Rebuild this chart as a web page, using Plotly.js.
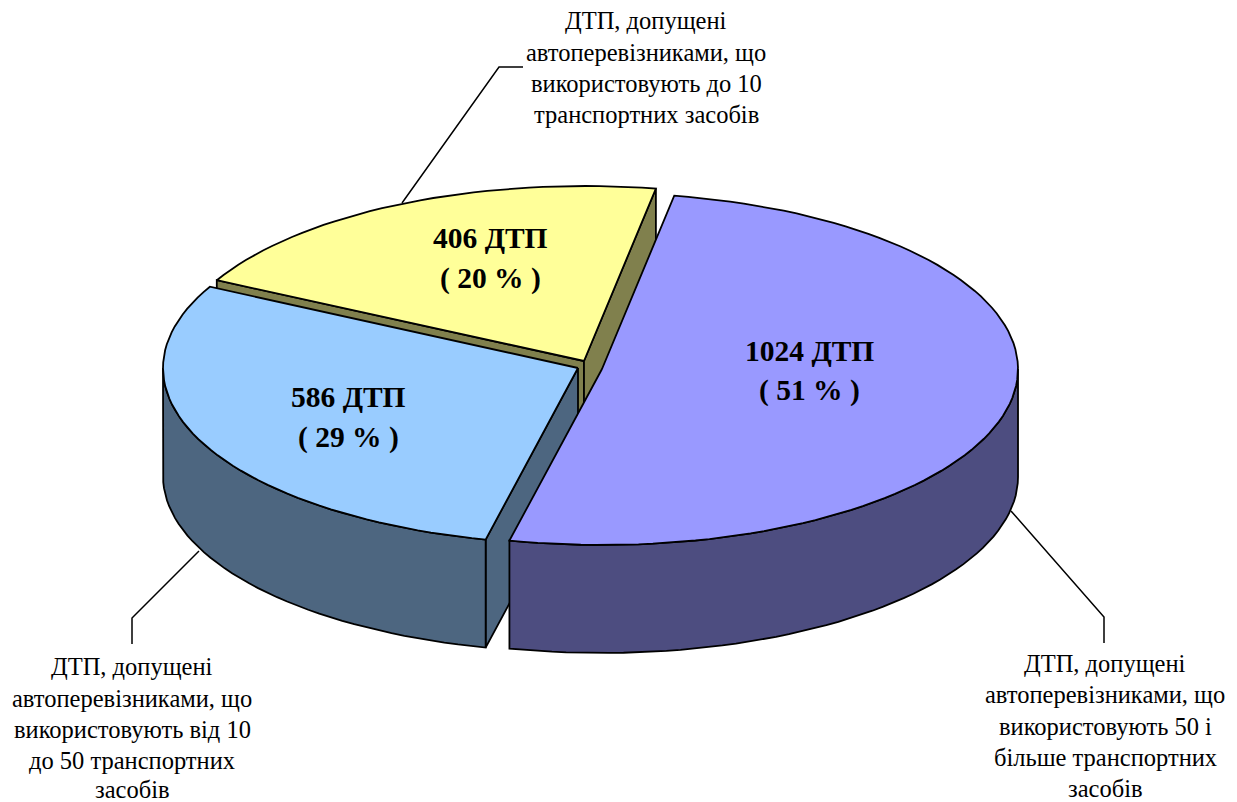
<!DOCTYPE html>
<html>
<head>
<meta charset="utf-8">
<script src="https://cdn.plot.ly/plotly-3.0.1.min.js"></script>
<style>html,body{margin:0;padding:0;background:#fff}#chart{width:1237px;height:802px}</style>
</head>
<body>
<div id="chart"></div>
<script>
// ---- data ----
const categories = ["50 і більше", "від 10 до 50", "до 10"];
const values = [1024, 586, 406];
const percents = [51, 29, 20];
const calloutLines = [
  ["ДТП, допущені", "автоперевізниками, що", "використовують 50 і", "більше транспортних", "засобів"],
  ["ДТП, допущені", "автоперевізниками, що", "використовують від 10", "до 50 транспортних", "засобів"],
  ["ДТП, допущені", "автоперевізниками, що", "використовують до 10", "транспортних засобів"]
];

// ---- styling / view geometry ----
const topColors = ["#9999FF", "#99CCFF", "#FFFF99"];
const sideColors = ["#4D4D80", "#4D6680", "#80804D"];
const pivots = [[602, 369], [578, 368], [584, 361]];
const radiiX = [416, 415, 414], radiiY = [176, 176, 175];
const startAngle = 10, depth = 108;
const labelPos = [[809, 351, 390], [348, 397, 437], [490, 238, 278]];
const calloutPos = [[1105, [663, 694, 726, 757, 788]], [132, [666, 698, 729, 760, 789]], [646, [20, 52, 83, 114]]];
const leaders = [
  {x: [1011, 1104, 1104], y: [511, 617, 643]},
  {x: [199, 132, 132], y: [551, 618, 644]},
  {x: [402, 499, 523], y: [203, 67, 67]}
];

const total = values.reduce((a, b) => a + b, 0);
let acc = startAngle;
const spans = values.map(v => { const a = acc; acc += v / total * 360; return [a, acc]; });

function pt(i, deg, drop) {
  const t = deg * Math.PI / 180;
  return [pivots[i][0] + radiiX[i] * Math.sin(t), pivots[i][1] - radiiY[i] * Math.cos(t) + (drop || 0)];
}
function arc(i, a, b, drop) {
  const out = [], n = Math.max(2, Math.ceil(Math.abs(b - a) / 2));
  for (let k = 0; k <= n; k++) out.push(pt(i, a + (b - a) * k / n, drop));
  return out;
}
const traces = [];
function poly(pts, color) {
  traces.push({
    type: "scatter", mode: "lines", fill: "toself", fillcolor: color,
    x: pts.map(p => p[0]).concat(pts[0][0]), y: pts.map(p => p[1]).concat(pts[0][1]),
    line: {color: "#000", width: 1.8}, hoverinfo: "skip", showlegend: false
  });
}
function radialFace(i, deg) {
  const c = pivots[i], e = pt(i, deg, 0), e2 = pt(i, deg, depth);
  poly([c, e, e2, [c[0], c[1] + depth]], sideColors[i]);
}
function topFace(i) {
  poly([pivots[i]].concat(arc(i, spans[i][0], spans[i][1], 0)), topColors[i]);
}
function wall(i, a, b) {
  poly(arc(i, a, b, 0).concat(arc(i, b, a, depth)), sideColors[i]);
}
// back to front: small slice, medium slice, large slice
radialFace(2, spans[2][0]);
radialFace(2, spans[2][1]);
topFace(2);
radialFace(1, spans[1][0]);
wall(1, spans[1][0], 270);
topFace(1);
wall(0, 90, spans[0][1]);
topFace(0);

leaders.forEach(l => traces.push({
  type: "scatter", mode: "lines", x: l.x, y: l.y,
  line: {color: "#000", width: 1.5}, hoverinfo: "skip", showlegend: false
}));

const serif = "Liberation Serif, Times New Roman, serif";
const annotations = [];
values.forEach((v, i) => {
  const [x, y1, y2] = labelPos[i];
  [[v + " ДТП", y1], ["( " + percents[i] + " % )", y2]].forEach(([text, y]) => annotations.push({
    x, y, text, xref: "x", yref: "y", showarrow: false, xanchor: "center", yanchor: "middle",
    font: {family: serif, size: 29.5, color: "#000", weight: 700}
  }));
});
calloutLines.forEach((lines, i) => lines.forEach((text, k) => annotations.push({
  x: calloutPos[i][0], y: calloutPos[i][1][k], text, xref: "x", yref: "y", showarrow: false,
  xanchor: "center", yanchor: "middle", font: {family: serif, size: 24.5, color: "#000"}
})));

Plotly.newPlot("chart", traces, {
  width: 1237, height: 802, margin: {l: 0, r: 0, t: 0, b: 0},
  paper_bgcolor: "#fff", plot_bgcolor: "#fff", showlegend: false,
  xaxis: {range: [0, 1237], visible: false, fixedrange: true},
  yaxis: {range: [802, 0], visible: false, fixedrange: true},
  annotations
}, {displayModeBar: false, staticPlot: true});
</script>
</body>
</html>
